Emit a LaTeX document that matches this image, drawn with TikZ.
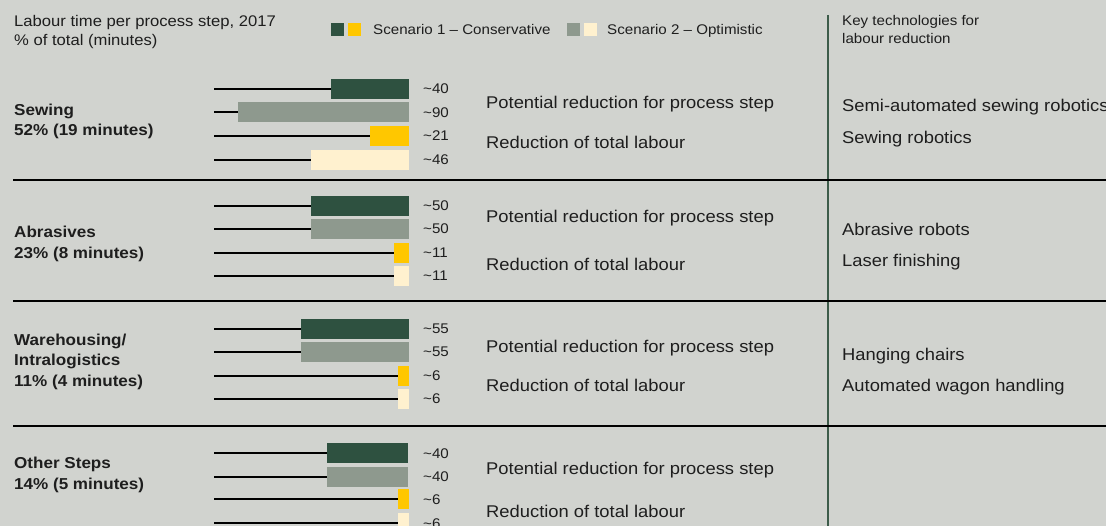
\documentclass[tikz,border=0pt]{standalone}
\usepackage{fontspec}
\setmainfont{Liberation Sans}[FakeStretch=1.08]
\definecolor{bg}{HTML}{D1D3CF}
\definecolor{ink}{HTML}{1E1E1E}
\definecolor{dkgreen}{HTML}{2E5140}
\definecolor{sage}{HTML}{8E998E}
\definecolor{gold}{HTML}{FFC700}
\definecolor{cream}{HTML}{FFF1CF}
\definecolor{rule}{HTML}{3D5C4A}

\begin{document}
\begin{tikzpicture}[x=1pt,y=-1pt]
	\tikzstyle{every node}+=[inner sep=0pt, text=ink]
	\tikzstyle{head}=[anchor=west, font=\fontsize{15.4}{18}\selectfont, text height=11pt, text depth=0pt]
	\tikzstyle{small}=[anchor=west, font=\fontsize{14}{17}\selectfont, text height=10pt, text depth=0pt]
	\tikzstyle{main}=[anchor=west, font=\fontsize{17}{20}\selectfont, text height=12.2pt, text depth=0pt]
	\tikzstyle{stepname}=[anchor=west, font=\bfseries\fontsize{15.8}{19}\selectfont, text height=11.4pt, text depth=0pt]
	\tikzstyle{val}=[anchor=west, font=\fontsize{14}{17}\selectfont, text height=10pt, text depth=0pt]
	\tikzstyle{bar}=[anchor=east, minimum height=20pt, draw=none]
	\tikzstyle{key}=[minimum width=13pt, minimum height=13pt, draw=none]
	\tikzstyle{lead}=[black, line width=2pt]
	\tikzstyle{sep}=[black, line width=2pt]
	\fill [bg] (0,0) rectangle (1106,526);
	\useasboundingbox (0,0) rectangle (1106,526);
	\clip (0,0) rectangle (1106,526);
	% header and legend
	\node [head] (title) at (14,21) {Labour time per process step, 2017};
	\node [head] (unit) at (14,40.5) {\% of total (minutes)};
	\node [key, fill=dkgreen] (k1a) at (337.5,29.8) {};
	\node [key, fill=gold] (k1b) at (354.5,29.8) {};
	\node [small] (leg1) at (373,30) {Scenario 1 -- Conservative};
	\node [key, fill=sage] (k2a) at (573.5,29.8) {};
	\node [key, fill=cream] (k2b) at (590.5,29.8) {};
	\node [small] (leg2) at (607,30) {Scenario 2 -- Optimistic};
	\node [small] (tech1) at (842,21) {Key technologies for};
	\node [small] (tech2) at (842,38.8) {labour reduction};
	% rules
	\coordinate (vtop) at (828,15);
	\coordinate (vbot) at (828,526);
	\draw [rule, line width=2pt] (vtop) -- (vbot);
	\coordinate (h1a) at (13,180);
	\coordinate (h1b) at (1106,180);
	\coordinate (h2a) at (13,301.5);
	\coordinate (h2b) at (1106,301.5);
	\coordinate (h3a) at (13,426);
	\coordinate (h3b) at (1106,426);
	\draw [sep] (h1a) -- (h1b);
	\draw [sep] (h2a) -- (h2b);
	\draw [sep] (h3a) -- (h3b);
	% sewing
	\node [stepname] (sewA) at (14,110) {Sewing};
	\node [stepname] (sewB) at (14,130) {52\% (19 minutes)};
	\node [bar, fill=dkgreen, minimum width=78pt] (s1) at (409,89) {};
	\node [bar, fill=sage, minimum width=171pt] (s2) at (409,112.5) {};
	\node [bar, fill=gold, minimum width=39pt] (s3) at (409,136) {};
	\node [bar, fill=cream, minimum width=98pt] (s4) at (409,160) {};
	\coordinate (sl1) at (214,89);
	\coordinate (sl2) at (214,112.5);
	\coordinate (sl3) at (214,136);
	\coordinate (sl4) at (214,160);
	\draw [lead] (sl1) -- (s1.west);
	\draw [lead] (sl2) -- (s2.west);
	\draw [lead] (sl3) -- (s3.west);
	\draw [lead] (sl4) -- (s4.west);
	\node [val] (sv1) at (423,89) {\textasciitilde40};
	\node [val] (sv2) at (423,112.5) {\textasciitilde90};
	\node [val] (sv3) at (423,136) {\textasciitilde21};
	\node [val] (sv4) at (423,160) {\textasciitilde46};
	\node [main] (sp) at (486,102) {Potential reduction for process step};
	\node [main] (sr) at (486,142) {Reduction of total labour};
	\node [main] (st1) at (842,105) {Semi-automated sewing robotics};
	\node [main] (st2) at (842,137) {Sewing robotics};
	% abrasives
	\node [stepname] (abrA) at (14,232) {Abrasives};
	\node [stepname] (abrB) at (14,253) {23\% (8 minutes)};
	\node [bar, fill=dkgreen, minimum width=98pt] (a1) at (409,206) {};
	\node [bar, fill=sage, minimum width=98pt] (a2) at (409,229) {};
	\node [bar, fill=gold, minimum width=15pt] (a3) at (409,253) {};
	\node [bar, fill=cream, minimum width=15pt] (a4) at (409,276) {};
	\coordinate (al1) at (214,206);
	\coordinate (al2) at (214,229);
	\coordinate (al3) at (214,253);
	\coordinate (al4) at (214,276);
	\draw [lead] (al1) -- (a1.west);
	\draw [lead] (al2) -- (a2.west);
	\draw [lead] (al3) -- (a3.west);
	\draw [lead] (al4) -- (a4.west);
	\node [val] (av1) at (423,206) {\textasciitilde50};
	\node [val] (av2) at (423,229) {\textasciitilde50};
	\node [val] (av3) at (423,253) {\textasciitilde11};
	\node [val] (av4) at (423,276) {\textasciitilde11};
	\node [main] (ap) at (486,216) {Potential reduction for process step};
	\node [main] (ar) at (486,264) {Reduction of total labour};
	\node [main] (at1) at (842,229) {Abrasive robots};
	\node [main] (at2) at (842,260.5) {Laser finishing};
	% warehousing
	\node [stepname] (whA) at (14,339.5) {Warehousing/};
	\node [stepname] (whB) at (14,360) {Intralogistics};
	\node [stepname] (whC) at (14,381) {11\% (4 minutes)};
	\node [bar, fill=dkgreen, minimum width=108pt] (w1) at (409,329) {};
	\node [bar, fill=sage, minimum width=108pt] (w2) at (409,352) {};
	\node [bar, fill=gold, minimum width=11pt] (w3) at (409,376) {};
	\node [bar, fill=cream, minimum width=11pt] (w4) at (409,399) {};
	\coordinate (wl1) at (214,329);
	\coordinate (wl2) at (214,352);
	\coordinate (wl3) at (214,376);
	\coordinate (wl4) at (214,399);
	\draw [lead] (wl1) -- (w1.west);
	\draw [lead] (wl2) -- (w2.west);
	\draw [lead] (wl3) -- (w3.west);
	\draw [lead] (wl4) -- (w4.west);
	\node [val] (wv1) at (423,329) {\textasciitilde55};
	\node [val] (wv2) at (423,352) {\textasciitilde55};
	\node [val] (wv3) at (423,376) {\textasciitilde6};
	\node [val] (wv4) at (423,399) {\textasciitilde6};
	\node [main] (wp) at (486,346.5) {Potential reduction for process step};
	\node [main] (wr) at (486,385.5) {Reduction of total labour};
	\node [main] (wt1) at (842,354) {Hanging chairs};
	\node [main] (wt2) at (842,385) {Automated wagon handling};
	% other steps
	\node [stepname] (otA) at (14,463) {Other Steps};
	\node [stepname] (otB) at (14,483.5) {14\% (5 minutes)};
	\node [bar, fill=dkgreen, minimum width=81pt] (o1) at (408,453) {};
	\node [bar, fill=sage, minimum width=81pt] (o2) at (408,476.5) {};
	\node [bar, fill=gold, minimum width=11pt] (o3) at (409,499) {};
	\node [bar, fill=cream, minimum width=11pt] (o4) at (409,523) {};
	\coordinate (ol1) at (214,453);
	\coordinate (ol2) at (214,476.5);
	\coordinate (ol3) at (214,499);
	\coordinate (ol4) at (214,523);
	\draw [lead] (ol1) -- (o1.west);
	\draw [lead] (ol2) -- (o2.west);
	\draw [lead] (ol3) -- (o3.west);
	\draw [lead] (ol4) -- (o4.west);
	\node [val] (ov1) at (423,453) {\textasciitilde40};
	\node [val] (ov2) at (423,476.5) {\textasciitilde40};
	\node [val] (ov3) at (423,499) {\textasciitilde6};
	\node [val] (ov4) at (423,523) {\textasciitilde6};
	\node [main] (op) at (486,468) {Potential reduction for process step};
	\node [main] (or) at (486,511) {Reduction of total labour};
\end{tikzpicture}
\end{document}
